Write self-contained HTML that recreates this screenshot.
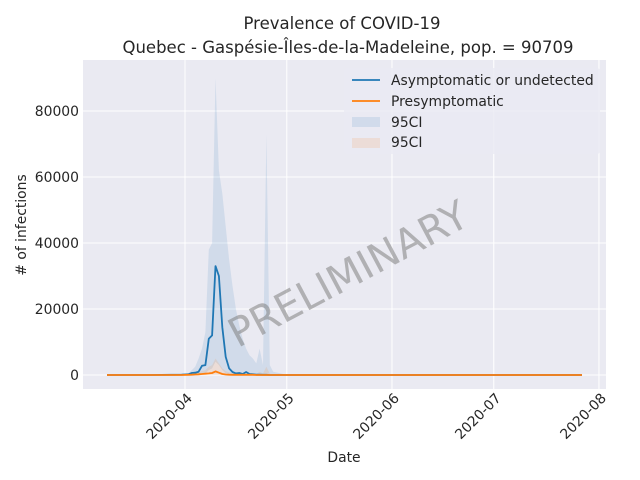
<!DOCTYPE html>
<html><head><meta charset="utf-8"><style>
body{margin:0;background:#fff}
svg{font-family:"DejaVu Sans","Liberation Sans",sans-serif;display:block}
</style></head><body>
<svg id="chart" width="640" height="480" xmlns="http://www.w3.org/2000/svg">
<rect x="0" y="0" width="640" height="480" fill="#ffffff"/>
<text x="342" y="29" font-size="16.5" text-anchor="middle" fill="#262626">Prevalence of COVID-19</text>
<text x="348" y="53" font-size="16.5" text-anchor="middle" fill="#262626">Quebec - Gaspésie-Îles-de-la-Madeleine, pop. = 90709</text>
<rect x="83" y="60" width="523" height="329" fill="#eaeaf2"/>
<g id="grid"></g>
<g id="marks"></g>
<g id="ticks"></g>
<text x="347" y="288" font-size="40" fill="#808080" fill-opacity="0.55" text-anchor="middle" transform="rotate(-28 347 272)">PRELIMINARY</text>
<text transform="translate(26 225) rotate(-90)" font-size="13.9" text-anchor="middle" fill="#262626"># of infections</text>
<text x="344" y="462" font-size="13.9" text-anchor="middle" fill="#262626">Date</text>
<g>
<rect x="344" y="68" width="256" height="86" rx="3" fill="#eaeaf2" fill-opacity="0.8"/>
<line x1="352" y1="80" x2="380" y2="80" stroke="#1f77b4" stroke-width="1.8"/>
<text x="391" y="85" font-size="13.9" fill="#262626">Asymptomatic or undetected</text>
<line x1="352" y1="101" x2="380" y2="101" stroke="#ff7f0e" stroke-width="1.8"/>
<text x="391" y="106" font-size="13.9" fill="#262626">Presymptomatic</text>
<rect x="352" y="117" width="28" height="10" fill="#1f77b4" fill-opacity="0.12"/>
<text x="391" y="127" font-size="13.9" fill="#262626">95CI</text>
<rect x="352" y="138" width="28" height="10" fill="#ff7f0e" fill-opacity="0.12"/>
<text x="391" y="147" font-size="13.9" fill="#262626">95CI</text>
</g>
</svg>
<script>
// days relative to 2020-04-01
const days = [-23,-10,-1,1,2,3,4,5,6,7,8,9,10,11,12,13,14,15,16,17,18,19,20,21,22,23,24,25,26,29,36,60,117];
const asymptomatic = [0,0,100,200,600,700,1000,2800,3000,11000,12000,33000,30000,14500,5500,2000,900,500,600,300,900,300,200,100,100,50,50,0,0,0,0,0,0];
const asymUpper = [0,0,200,500,1500,2500,5000,8000,13000,38000,40000,90000,62000,55000,45000,35000,27000,20000,15000,11000,8000,6000,5000,3500,8000,3000,73000,3000,1000,300,0,0,0];
const asymLower = [0,0,0,0,0,0,100,300,500,1500,2000,4000,3000,1500,500,200,0,0,0,0,0,0,0,0,0,0,0,0,0,0,0,0,0];
const presymptomatic = [0,0,0,50,100,150,200,300,400,500,600,1100,700,300,150,100,50,50,50,50,50,50,50,0,0,0,0,0,0,0,0,0,0];
const presUpper = [0,0,50,200,300,500,800,1200,1500,2500,3000,5000,3500,2000,1200,800,600,500,400,300,300,300,300,300,1000,500,2500,400,200,100,0,0,0];
const presLower = [0,0,0,0,0,0,0,0,0,0,0,0,0,0,0,0,0,0,0,0,0,0,0,0,0,0,0,0,0,0,0,0,0];
const yTicks = [0,20000,40000,60000,80000];
const xTickLabels = ["2020-04","2020-05","2020-06","2020-07","2020-08"];
const xTickDays = [0,30,61,91,122];

const NS="http://www.w3.org/2000/svg";
const X = d => 185 + d*3.393;
const Y = v => 375 - v*(264/80000);
function mk(tag, attrs, parent){const e=document.createElementNS(NS,tag);for(const k in attrs)e.setAttribute(k,attrs[k]);parent.appendChild(e);return e;}
const grid=document.getElementById('grid'), marks=document.getElementById('marks'), ticks=document.getElementById('ticks');

yTicks.forEach((v,i)=>{
  const l=mk('line',{x1:83,x2:606,y1:Y(v),y2:Y(v),stroke:'#ffffff','stroke-width':1},grid);
  
  
  const t=mk('text',{x:79,y:Y(v)+5,'font-size':13.9,'text-anchor':'end',fill:'#262626'},ticks);
  t.textContent=String(v);
  
  
});
xTickDays.forEach((d,i)=>{
  const l=mk('line',{x1:X(d),x2:X(d),y1:60,y2:389,stroke:'#ffffff','stroke-width':1},grid);
  
  
  const t=mk('text',{x:0,y:0,'font-size':13.9,'text-anchor':'end',fill:'#262626',transform:`translate(${X(d)+8} ${399}) rotate(-45)`},ticks);
  t.textContent=xTickLabels[i];
  
  
});

function band(up,lo,color,name){
  let d='M'+days.map((dd,i)=>X(dd).toFixed(1)+','+Y(up[i]).toFixed(1)).join('L');
  for(let i=days.length-1;i>=0;i--) d+='L'+X(days[i]).toFixed(1)+','+Y(lo[i]).toFixed(1);
  const p=mk('path',{d:d+'Z',fill:color,'fill-opacity':0.12,stroke:'none'},marks);
  
  
}
function line(vals,color,name){
  const d='M'+days.map((dd,i)=>X(dd).toFixed(1)+','+Y(vals[i]).toFixed(1)).join('L');
  const p=mk('path',{d:d,fill:'none',stroke:color,'stroke-width':1.8,'stroke-linejoin':'round'},marks);
  
  
}
band(asymUpper,asymLower,'#1f77b4','ci-band-asymptomatic');
band(presUpper,presLower,'#ff7f0e','ci-band-presymptomatic');
line(asymptomatic,'#1f77b4','line-asymptomatic');
line(presymptomatic,'#ff7f0e','line-presymptomatic');
</script>
</body></html>
